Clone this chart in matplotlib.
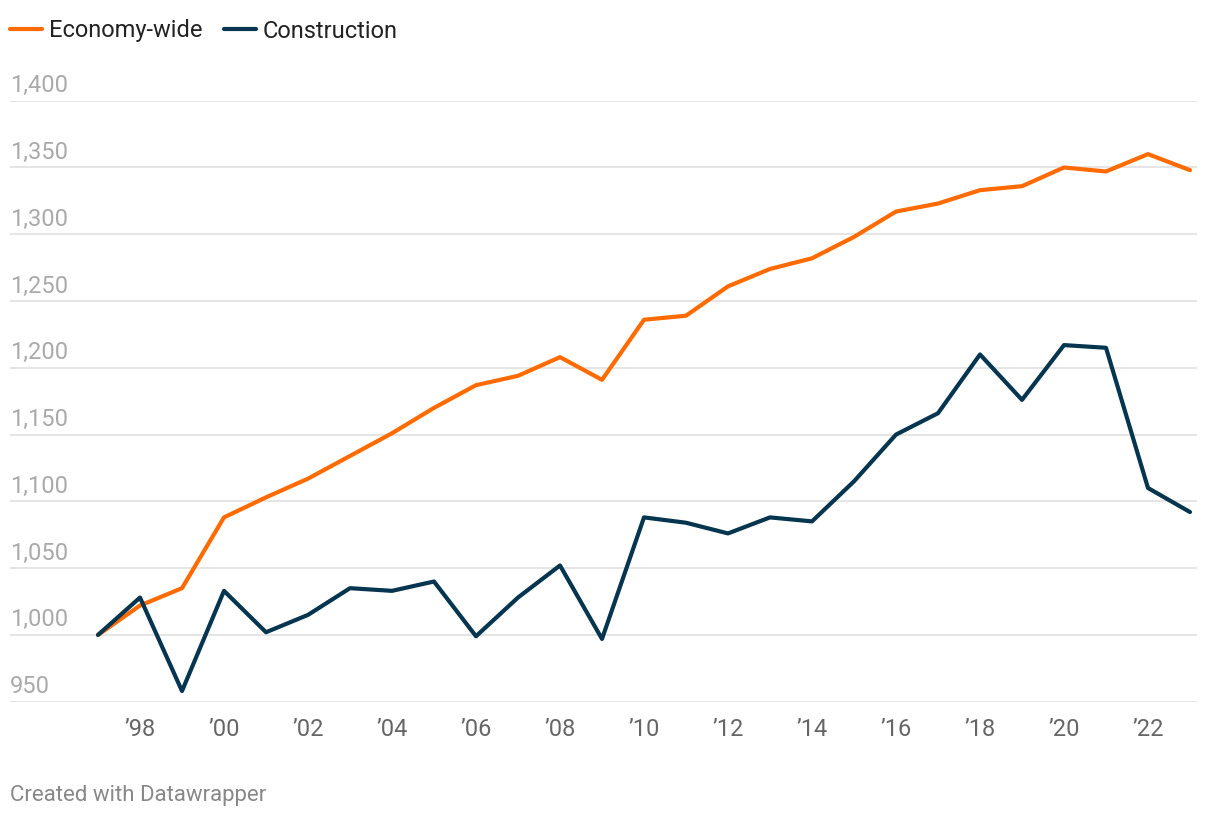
import matplotlib
matplotlib.use("Agg")
import matplotlib.pyplot as plt
from matplotlib.lines import Line2D

plt.rcParams['font.family'] = ['Roboto', 'DejaVu Sans']

# data
years = list(range(1997, 2024))
economy = [1000, 1022, 1035, 1088, 1103, 1117, 1134, 1151, 1170, 1187, 1194, 1208, 1191,
           1236, 1239, 1261, 1274, 1282, 1298, 1317, 1323, 1333, 1336, 1350, 1347, 1360, 1348]
construction = [1000, 1028, 958, 1033, 1002, 1015, 1035, 1033, 1040, 999, 1028, 1052, 997,
                1088, 1084, 1076, 1088, 1085, 1115, 1150, 1166, 1210, 1176, 1217, 1215, 1110, 1092]
y_ticks = [950, 1000, 1050, 1100, 1150, 1200, 1250, 1300, 1350, 1400]
x_ticks = list(range(1998, 2023, 2))
x_labels = ["\u2019" + str(y)[2:] for y in x_ticks]

orange = '#ff6b00'
navy = '#05354f'

fig = plt.figure(figsize=(12.2, 8.18), dpi=100)
W, H = 1220, 818
ax = fig.add_axes([10 / W, 1 - 701.7 / H, (1197 - 10) / W, (701.7 - 100.7) / H])

# gridlines and y labels above them
for v in y_ticks:
    ax.axhline(v, color='#e3e3e3', lw=1.3, zorder=0)
    ax.annotate(f"{v:,}", xy=(0, v), xycoords=('axes fraction', 'data'),
                xytext=(0, 2.5), textcoords='offset points',
                ha='left', va='bottom', fontsize=17, color='#aaaaaa')

ax.plot(years, economy, color=orange, lw=3, solid_joinstyle='round', solid_capstyle='round', zorder=3)
ax.plot(years, construction, color=navy, lw=3, solid_joinstyle='round', solid_capstyle='round', zorder=4)

ax.set_xlim(1997 - 88 / 42, 2023 + 7 / 42)
ax.set_ylim(950, 1400)
ax.set_yticks([])
ax.set_xticks(x_ticks)
ax.set_xticklabels(x_labels, fontsize=17, color='#666666')
ax.tick_params(axis='x', length=0, pad=12)
for s in ax.spines.values():
    s.set_visible(False)
ax.patch.set_alpha(0)

# legend
handles = [Line2D([], [], color=orange, lw=3, solid_capstyle='round'),
           Line2D([], [], color=navy, lw=3, solid_capstyle='round')]
fig.legend(handles, ['Economy-wide', 'Construction'], loc='center left',
           bbox_to_anchor=(10 / W, 1 - 31 / H), ncol=2, frameon=False, fontsize=17,
           handlelength=1.35, handletextpad=0.3, columnspacing=0.9, labelcolor='#222222',
           borderpad=0, borderaxespad=0)

fig.text(10 / W, 1 - 796 / H, "Created with Datawrapper", fontsize=16, color='#888888',
         ha='left', va='center')

fig.savefig("out.png", dpi=100)
